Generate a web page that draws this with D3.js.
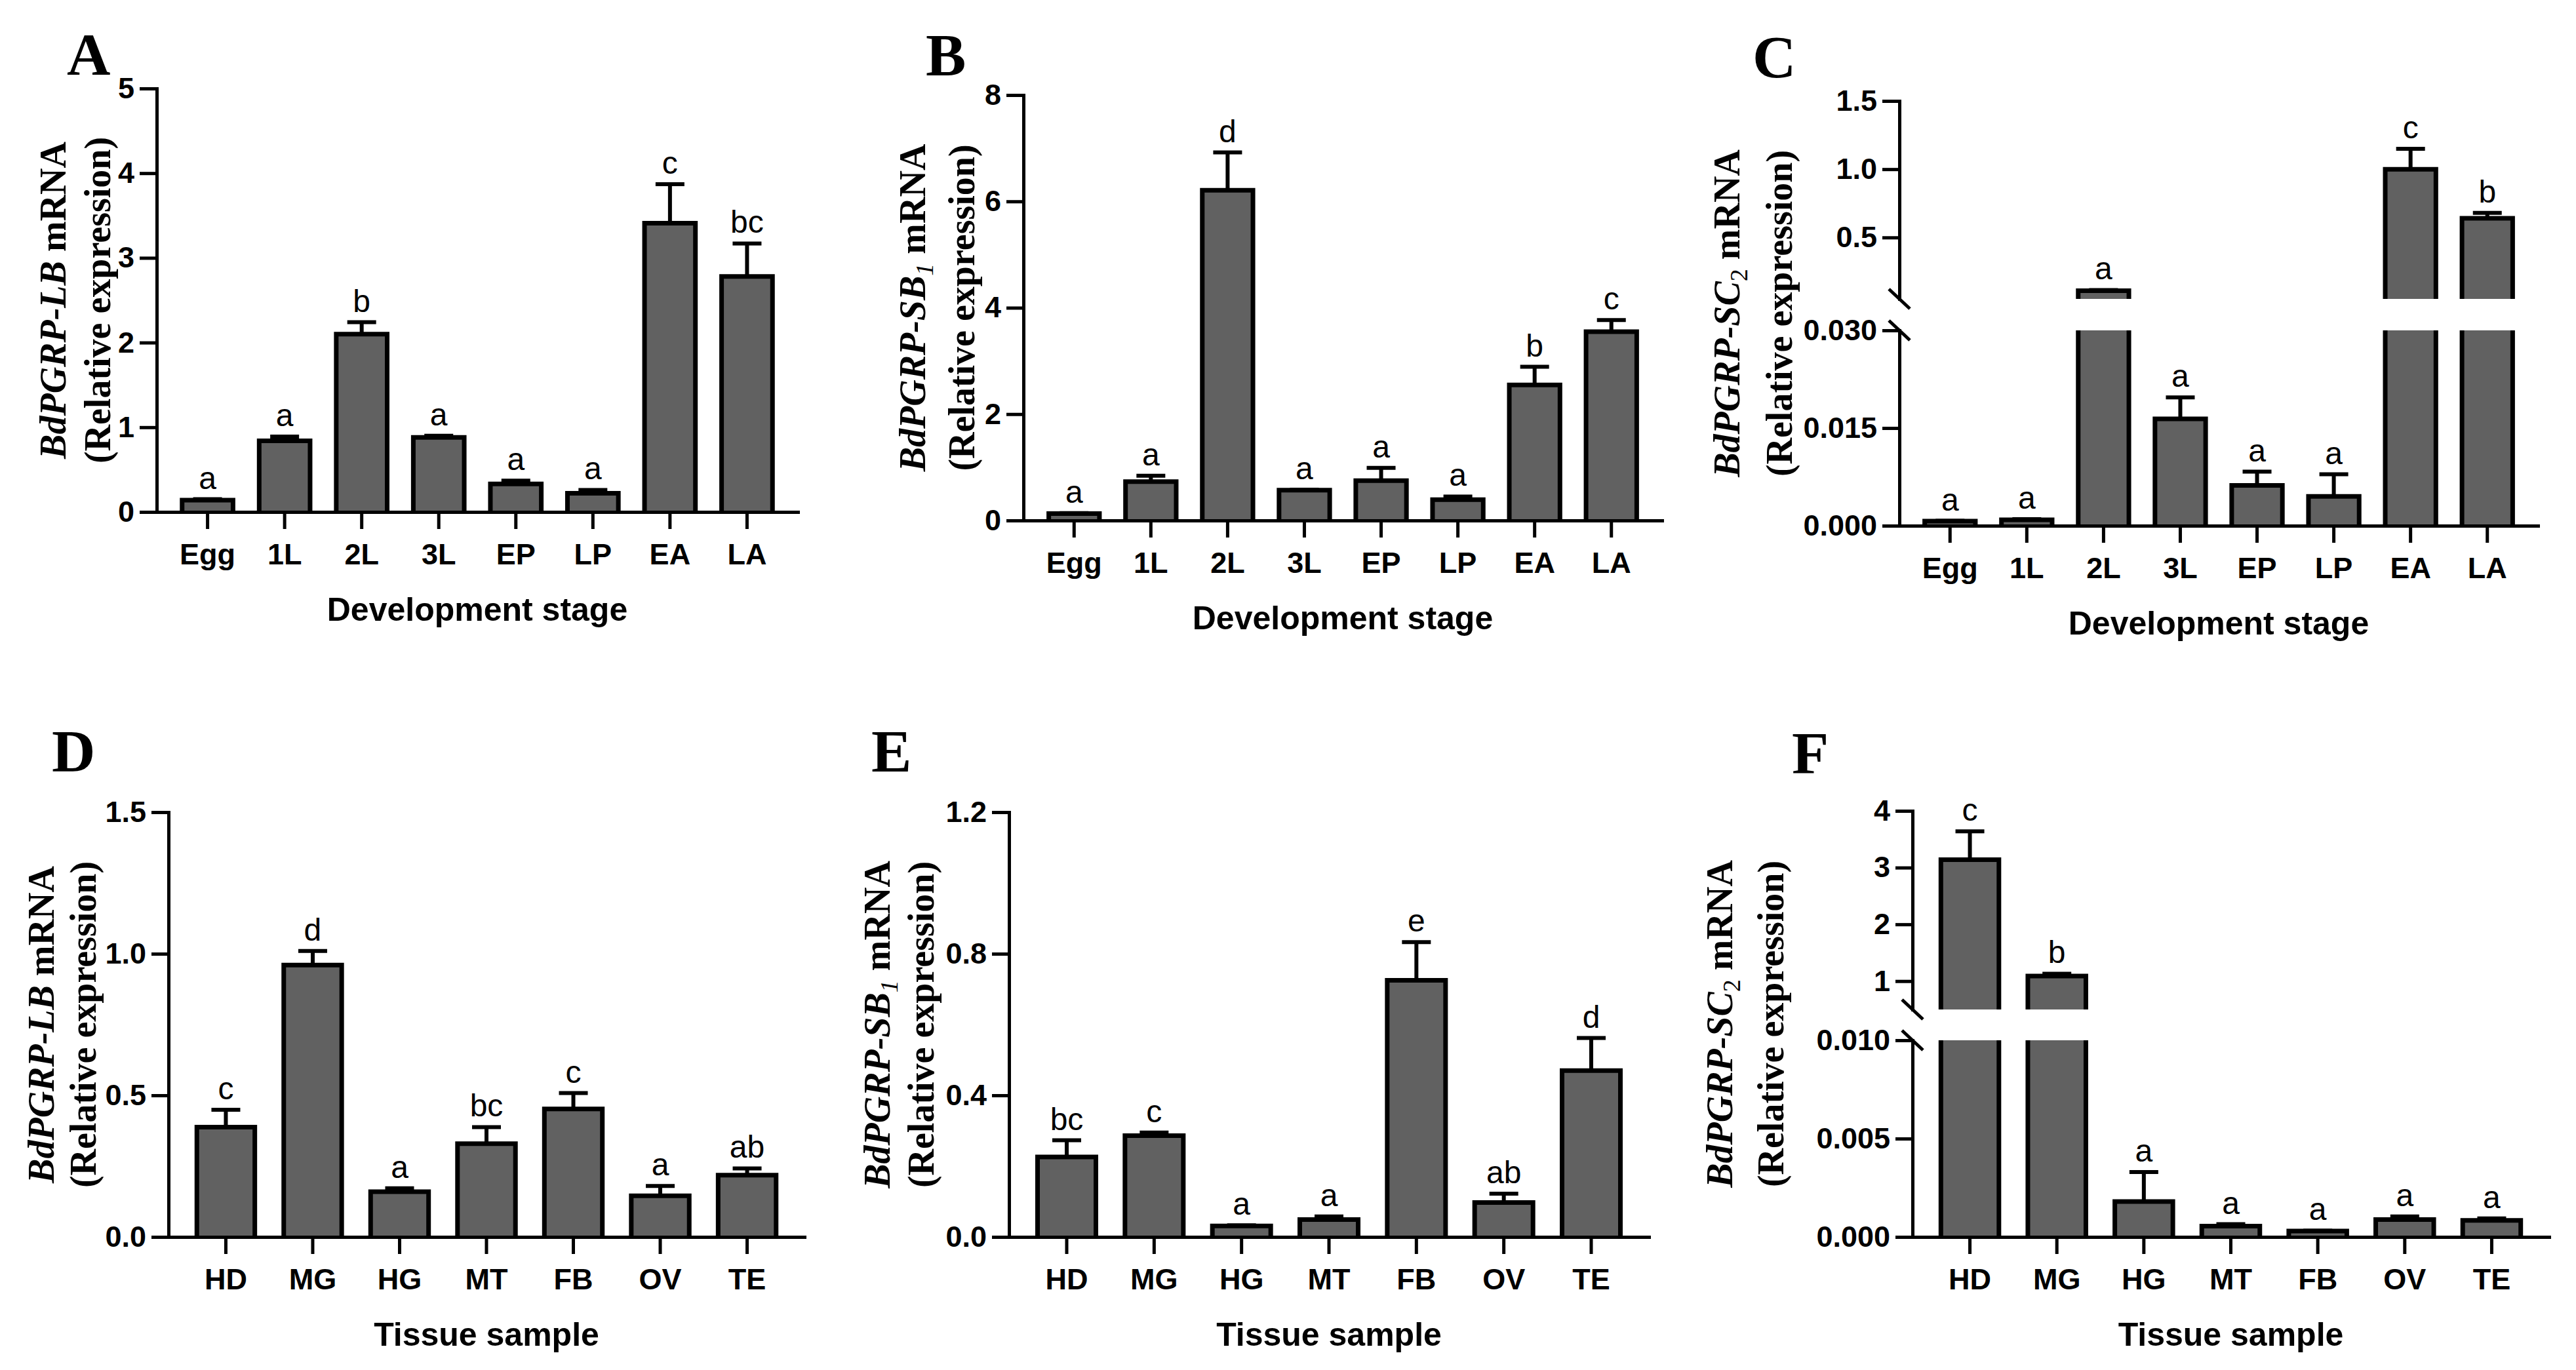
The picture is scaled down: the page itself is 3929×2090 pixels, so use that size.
<!DOCTYPE html>
<html><head><meta charset="utf-8">
<script src="https://cdn.jsdelivr.net/npm/d3@7"></script>
<style>body{margin:0;background:#fff}svg{display:block}</style>
</head><body>
<svg id="chart" width="3929" height="2090"></svg>
<script>
// ---------- data ----------
const stages = ["Egg","1L","2L","3L","EP","LP","EA","LA"];
const tissues = ["HD","MG","HG","MT","FB","OV","TE"];

const lbStageMean = [0.14,0.84,2.10,0.88,0.33,0.22,3.41,2.78];
const lbStageSE   = [0.01,0.05,0.14,0.02,0.04,0.04,0.46,0.39];
const lbStageSig  = ["a","a","b","a","a","a","c","bc"];

const sb1StageMean = [0.13,0.73,6.21,0.57,0.75,0.39,2.55,3.55];
const sb1StageSE   = [0.01,0.11,0.71,0.01,0.24,0.06,0.34,0.22];
const sb1StageSig  = ["a","a","d","a","a","a","b","c"];

const sc2StageMean = [0.0007,0.0009,0.11,0.0164,0.0062,0.0045,1.0,0.64];
const sc2StageSE   = [0.00005,0.0001,0.005,0.0033,0.0021,0.0034,0.15,0.04];
const sc2StageSig  = ["a","a","a","a","a","a","c","b"];

const lbTissueMean = [0.388,0.96,0.16,0.329,0.452,0.145,0.218];
const lbTissueSE   = [0.061,0.05,0.012,0.059,0.056,0.035,0.024];
const lbTissueSig  = ["c","d","a","bc","c","a","ab"];

const sb1TissueMean = [0.226,0.286,0.031,0.049,0.725,0.097,0.47];
const sb1TissueSE   = [0.047,0.009,0.002,0.009,0.108,0.025,0.092];
const sb1TissueSig  = ["bc","c","a","a","e","ab","d"];

const sc2TissueMean = [3.14,1.09,0.0018,0.00055,0.0003,0.00088,0.00084];
const sc2TissueSE   = [0.50,0.04,0.0015,0.0001,0.00002,0.00016,0.0001];
const sc2TissueSig  = ["c","b","a","a","a","a","a"];

const aTicks = [0,1,2,3,4,5];
const bTicks = [0,2,4,6,8];
const cTicksLow = [0,0.015,0.03];
const cTicksHigh = [0.5,1.0,1.5];
const dTicks = [0,0.5,1.0,1.5];
const eTicks = [0,0.4,0.8,1.2];
const fTicksLow = [0,0.005,0.01];
const fTicksHigh = [1,2,3,4];

// ---------- layout ----------
const SANS = "'Liberation Sans', Arial, Helvetica, sans-serif";
const SERIF = "'Liberation Serif', 'Times New Roman', Times, serif";
const BAR_FILL = "#616161";

const panels = [
  {id:"A", cats:stages, mean:lbStageMean, se:lbStageSE, sig:lbStageSig,
   x0:239, x1:1217, yZero:781, label:[102,114], titleX:[80,148], xTitle:"Development stage",
   gene:[{t:"BdPGRP-LB",i:true}],
   segments:[{domain:[0,5], range:[781,135], ticks:aTicks, fmt:"d"}]},
  {id:"B", cats:stages, mean:sb1StageMean, se:sb1StageSE, sig:sb1StageSig,
   x0:1561, x1:2535, yZero:794, label:[1412,115], titleX:[1391,1466], xTitle:"Development stage",
   gene:[{t:"BdPGRP-SB",i:true},{t:"1",i:true,sub:true}],
   segments:[{domain:[0,8], range:[794,145], ticks:bTicks, fmt:"d"}]},
  {id:"C", cats:stages, mean:sc2StageMean, se:sc2StageSE, sig:sc2StageSig,
   x0:2897, x1:3871, yZero:802, label:[2673,118], titleX:[2633,2713], xTitle:"Development stage",
   gene:[{t:"BdPGRP-SC",i:true},{t:"2",i:false,sub:true}],
   segments:[{domain:[0,0.03], range:[802,504], ticks:cTicksLow, fmt:".3f"},
             {domain:[0.05,1.5], range:[456,154], ticks:cTicksHigh, fmt:".1f"}]},
  {id:"D", cats:tissues, mean:lbTissueMean, se:lbTissueSE, sig:lbTissueSig,
   x0:257, x1:1227, yZero:1887, label:[79,1177], titleX:[62,126], xTitle:"Tissue sample",
   gene:[{t:"BdPGRP-LB",i:true}],
   segments:[{domain:[0,1.5], range:[1887,1239], ticks:dTicks, fmt:".1f"}]},
  {id:"E", cats:tissues, mean:sb1TissueMean, se:sb1TissueSE, sig:sb1TissueSig,
   x0:1539, x1:2515, yZero:1887, label:[1329,1177], titleX:[1337,1404], xTitle:"Tissue sample",
   gene:[{t:"BdPGRP-SB",i:true},{t:"1",i:true,sub:true}],
   segments:[{domain:[0,1.2], range:[1887,1239], ticks:eTicks, fmt:".1f"}]},
  {id:"F", cats:tissues, mean:sc2TissueMean, se:sc2TissueSE, sig:sc2TissueSig,
   x0:2917, x1:3888, yZero:1887, label:[2733,1180], titleX:[2622,2700], xTitle:"Tissue sample",
   gene:[{t:"BdPGRP-SC",i:true},{t:"2",i:false,sub:true}],
   segments:[{domain:[0,0.01], range:[1887,1587], ticks:fTicksLow, fmt:".3f"},
             {domain:[0.5,4], range:[1540,1237], ticks:fTicksHigh, fmt:"d"}]}
];

const svg = d3.select("#chart");
svg.append("rect").attr("width",3929).attr("height",2090).attr("fill","#fff");
const defs = svg.append("defs");

const SW = 7;      // bar border
const AXW = 5;     // axis line width

panels.forEach(p => {
  const g = svg.append("g").attr("class","panel-"+p.id);
  const x = d3.scaleBand().domain(p.cats).range([p.x0, p.x1]).paddingInner(0.28).paddingOuter(0.3);
  const bw = x.bandwidth();
  const segs = p.segments.map(s => Object.assign({}, s, {scale: d3.scaleLinear().domain(s.domain).range(s.range)}));
  const yOf = v => {
    for (let i = segs.length - 1; i >= 0; i--) {
      if (i === 0 || v >= segs[i].domain[0]) return segs[i].scale(v);
    }
  };

  // bars, clipped per axis segment
  segs.forEach((s, si) => {
    const clipId = "clip-" + p.id + "-" + si;
    const top = (si === segs.length - 1) ? 0 : s.range[1];
    defs.append("clipPath").attr("id", clipId).append("rect")
      .attr("x", p.x0 - 20).attr("y", top).attr("width", p.x1 - p.x0 + 40).attr("height", s.range[0] - top);
    const bg = g.append("g").attr("clip-path", "url(#" + clipId + ")");
    p.cats.forEach((c, i) => {
      const m = p.mean[i];
      if (si > 0 && m < s.domain[0]) return;
      const yT = s.scale(m), yB = s.range[0];
      const xL = x(c) + SW / 2, xR = x(c) + bw - SW / 2;
      bg.append("rect").attr("x", xL).attr("y", yT).attr("width", xR - xL).attr("height", Math.max(0, yB - yT))
        .attr("fill", BAR_FILL);
      bg.append("path").attr("d", `M${xL},${yB}V${yT}H${xR}V${yB}`)
        .attr("fill", "none").attr("stroke", "#000").attr("stroke-width", SW).attr("stroke-linejoin", "miter");
    });
  });

  // error bars (upper half) and significance letters
  p.cats.forEach((c, i) => {
    const m = p.mean[i], e = p.se[i];
    const cx = x(c) + bw / 2;
    const y1 = yOf(m), y2 = yOf(m + e);
    g.append("line").attr("x1", cx).attr("x2", cx).attr("y1", y1).attr("y2", y2)
      .attr("stroke", "#000").attr("stroke-width", 6);
    g.append("line").attr("x1", cx - 22).attr("x2", cx + 22).attr("y1", y2).attr("y2", y2)
      .attr("stroke", "#000").attr("stroke-width", 6);
    g.append("text").attr("x", cx).attr("y", Math.min(y1, y2) - 16)
      .attr("text-anchor", "middle").attr("font-family", SANS).attr("font-size", 48)
      .attr("fill", "#000").text(p.sig[i]);
  });

  // y axis segments
  segs.forEach(s => {
    const ax = d3.axisLeft(s.scale).tickValues(s.ticks).tickFormat(d3.format(s.fmt))
      .tickSize(26).tickSizeOuter(0).tickPadding(8);
    const ag = g.append("g").attr("transform", `translate(${p.x0},0)`).call(ax);
    ag.select(".domain").attr("stroke-width", AXW).attr("stroke-linecap", "square");
    ag.selectAll(".tick line").attr("stroke-width", AXW);
    ag.selectAll(".tick text").attr("font-family", SANS).attr("font-size", 45)
      .attr("font-weight", "bold").attr("fill", "#000");
  });
  if (segs.length > 1) {
    [segs[1].range[0], segs[0].range[1]].forEach(yb => {
      g.append("line").attr("x1", p.x0 - 16).attr("y1", yb - 15).attr("x2", p.x0 + 16).attr("y2", yb + 15)
        .attr("stroke", "#000").attr("stroke-width", AXW);
    });
  }

  // x axis
  const xa = d3.axisBottom(x).tickSize(26).tickSizeOuter(0).tickPadding(22);
  const xg = g.append("g").attr("transform", `translate(0,${p.yZero})`).call(xa);
  xg.select(".domain").attr("stroke-width", AXW).attr("stroke-linecap", "square");
  xg.selectAll(".tick line").attr("stroke-width", AXW);
  xg.selectAll(".tick text").attr("font-family", SANS).attr("font-size", 45)
    .attr("font-weight", "bold").attr("fill", "#000");

  // x title
  g.append("text").attr("x", (p.x0 + p.x1) / 2).attr("y", p.yZero + 166)
    .attr("text-anchor", "middle").attr("font-family", SANS).attr("font-size", 50)
    .attr("font-weight", "bold").text(p.xTitle);

  // y title (two lines)
  const top = segs[segs.length - 1].range[1];
  const yc = (top + p.yZero) / 2;
  const t1 = g.append("text").attr("transform", `translate(${p.titleX[0]},${yc}) rotate(-90)`)
    .attr("text-anchor", "middle").attr("dy", "0.35em").attr("font-family", SERIF)
    .attr("font-size", 56).attr("font-weight", "bold");
  p.gene.forEach(part => {
    const ts = t1.append("tspan").text(part.t);
    if (part.i) ts.attr("font-style", "italic");
    if (part.sub) ts.attr("font-size", 38).attr("dy", 12).attr("font-weight", "normal");
  });
  const mr = t1.append("tspan").text(" mRNA");
  if (p.gene.some(q => q.sub)) mr.attr("dy", -12);
  g.append("text").attr("transform", `translate(${p.titleX[1]},${yc}) rotate(-90)`)
    .attr("text-anchor", "middle").attr("dy", "0.35em").attr("font-family", SERIF)
    .attr("font-size", 56).attr("font-weight", "bold").text("(Relative expression)");

  // panel letter
  g.append("text").attr("x", p.label[0]).attr("y", p.label[1]).attr("font-family", SERIF)
    .attr("font-size", 92).attr("font-weight", "bold").text(p.id);
});
</script>
</body></html>
